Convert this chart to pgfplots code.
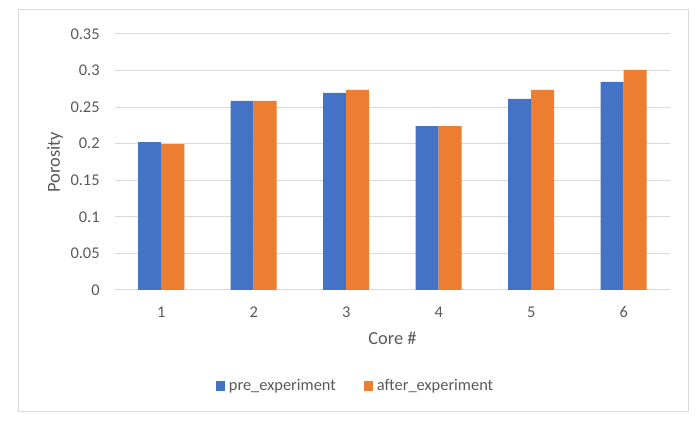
\documentclass[border=0pt]{standalone}
\usepackage{pgfplots}
\pgfplotsset{compat=1.18}
\usepackage{fontspec}
\setmainfont{Carlito}
\definecolor{cblue}{HTML}{4472C4}
\definecolor{corange}{HTML}{ED7D31}
\definecolor{ctext}{HTML}{595959}
\definecolor{cgrid}{HTML}{D9D9D9}
\begin{document}
\begin{tikzpicture}
\path (0pt,0pt) rectangle (525pt,321pt);
\draw[cgrid,line width=0.75pt] (13.5pt,12pt) rectangle (516pt,313.5pt);
\begin{axis}[
  at={(86.25pt,103.5pt)}, anchor=south west,
  scale only axis, width=416.25pt, height=192pt,
  xmin=0.5, xmax=6.5, ymin=0, ymax=0.35,
  ybar=0pt, bar width=17.25pt,
  xtick={1,2,3,4,5,6},
  xticklabels={1,2,3,4,5,6},
  ytick={0,0.05,0.1,0.15,0.2,0.25,0.3,0.35},
  yticklabels={0,0.05,0.1,0.15,0.2,0.25,0.3,0.35},
  major tick length=0pt,
  axis line style={draw=none},
  ymajorgrids, grid style={cgrid,line width=0.75pt},
  ticklabel style={font=\fontsize{12.3}{14.8}\selectfont, text=ctext},
  yticklabel style={xshift=-8pt},
  xticklabel style={yshift=-9pt},
  /pgf/number format/assume math mode=true,
  ylabel={Porosity}, xlabel={Core \#},
  label style={font=\fontsize{13.8}{16.6}\selectfont, text=ctext},
  ylabel style={at={(axis description cs:-0.108,0.5)}, anchor=center},
  xlabel style={at={(axis description cs:0.5,-0.1875)}, anchor=center},
  legend style={at={(0.434,-0.375)}, anchor=center, draw=none, fill=none,
    legend columns=2, font=\fontsize{12.3}{14.8}\selectfont, text=ctext,
    /tikz/every even column/.append style={column sep=19pt},
    /tikz/every odd column/.append style={column sep=1pt}},
  legend image code/.code={\fill[#1] (0pt,-3.4pt) rectangle (6.8pt,3.4pt);},
]
\addplot[fill=cblue, draw=none] coordinates {(1,0.202) (2,0.2585) (3,0.2695) (4,0.224) (5,0.2612) (6,0.2846)};
\addplot[fill=corange, draw=none] coordinates {(1,0.1994) (2,0.2585) (3,0.2736) (4,0.224) (5,0.2736) (6,0.3011)};
\legend{pre\_experiment, after\_experiment}
\end{axis}
\end{tikzpicture}
\end{document}
